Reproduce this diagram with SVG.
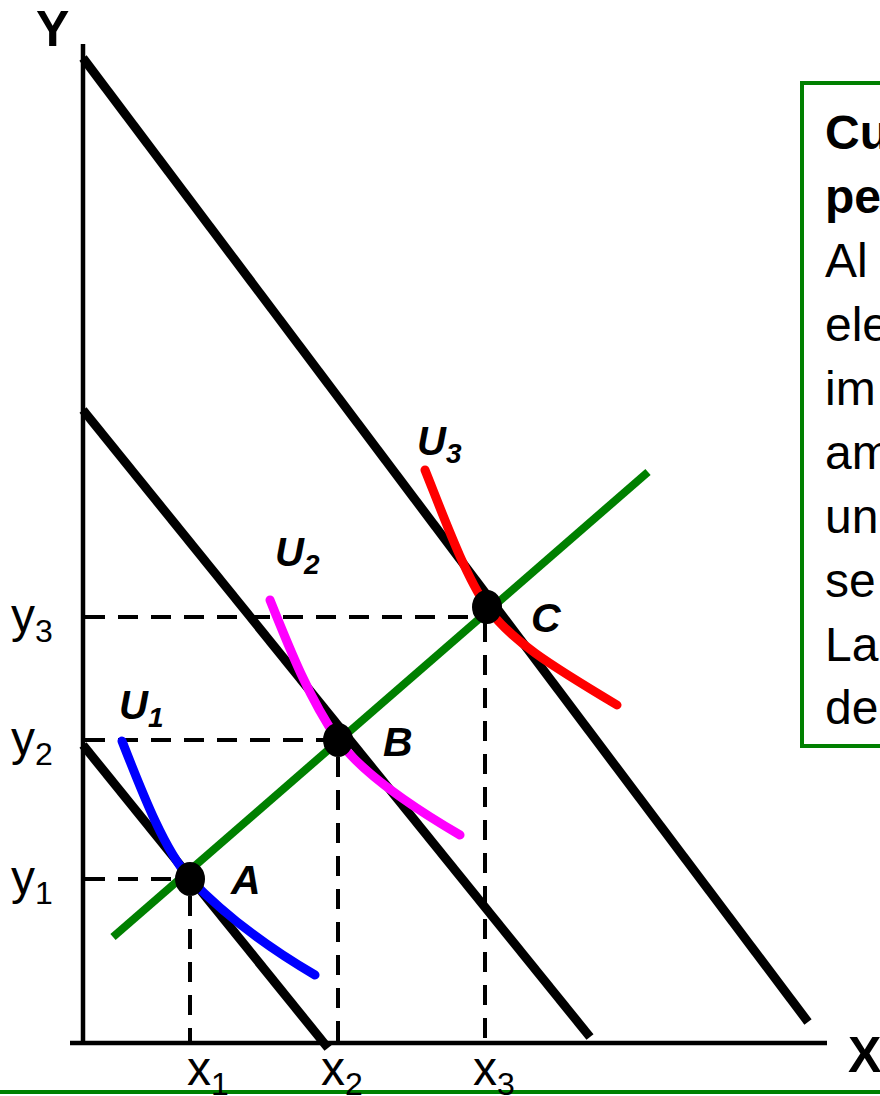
<svg xmlns="http://www.w3.org/2000/svg" width="880" height="1096" viewBox="0 0 880 1096">
<style>
.axis{stroke:#000;stroke-width:4.5;fill:none}
.budget{stroke:#000;stroke-width:9;fill:none}
.dash{stroke:#000;stroke-width:4;stroke-dasharray:20 13;fill:none}
.curve{fill:none;stroke-width:9;stroke-linecap:round}
.lbl{font-family:"Liberation Sans",Arial,sans-serif;fill:#000}
.pt{font-family:"Liberation Sans",Arial,sans-serif;font-weight:bold;font-style:italic;fill:#000}
.box{font-family:"Liberation Sans",Arial,sans-serif;font-size:48px;fill:#000}
</style>
<rect width="880" height="1096" fill="#fff"/>
<g id="axes">
<line class="axis" x1="83" y1="44" x2="83" y2="1045"/>
<line class="axis" x1="70" y1="1043" x2="827" y2="1043"/>
<text class="lbl" x="36" y="46" font-size="50" font-weight="bold">Y</text>
<text class="lbl" x="848" y="1072" font-size="50" font-weight="bold">X</text>
<line x1="0" y1="1092" x2="880" y2="1092" stroke="#008000" stroke-width="4"/>
</g>
<g id="connectors">
<line class="dash" x1="85" y1="617" x2="487" y2="617"/>
<line class="dash" x1="85" y1="740" x2="338" y2="740"/>
<line class="dash" x1="85" y1="879" x2="190" y2="879"/>
<line class="dash" x1="190" y1="896" x2="190" y2="1043"/>
<line class="dash" x1="338" y1="757" x2="338" y2="1043"/>
<line class="dash" x1="485" y1="622" x2="485" y2="1043"/>
<line class="budget" x1="83" y1="58" x2="808" y2="1022"/>
<line class="budget" x1="83" y1="410" x2="590" y2="1037"/>
<line class="budget" x1="83" y1="745" x2="328" y2="1048"/>
<line x1="113" y1="937" x2="648" y2="472" stroke="#008000" stroke-width="8"/>
</g>
<g id="U1">
<path class="curve" stroke="#0000ff" d="M122,741 C145,800 165,850 190,879 C215,905 255,940 315,975"/>
<text class="pt" x="119" y="719" font-size="40">U<tspan font-size="28" dy="8">1</tspan></text>
</g>
<g id="U2">
<path class="curve" stroke="#ff00ff" d="M270,600 C290,650 310,700 338,740 C360,770 400,800 460,835"/>
<text class="pt" x="275" y="566" font-size="40">U<tspan font-size="28" dy="8">2</tspan></text>
</g>
<g id="U3">
<path class="curve" stroke="#ff0000" d="M425,470 C445,520 465,575 487,607 C510,640 550,665 617,705"/>
<text class="pt" x="417" y="455" font-size="40">U<tspan font-size="28" dy="8">3</tspan></text>
</g>
<g id="A">
<ellipse cx="190" cy="879" rx="15" ry="17" fill="#000"/>
<text class="pt" x="231" y="894" font-size="41">A</text>
</g>
<g id="B">
<ellipse cx="338" cy="740" rx="15" ry="17" fill="#000"/>
<text class="pt" x="383" y="756" font-size="41">B</text>
</g>
<g id="C">
<ellipse cx="487" cy="607" rx="15" ry="17" fill="#000"/>
<text class="pt" x="531" y="632" font-size="41">C</text>
</g>
<g id="ticks">
<text class="lbl" x="11" y="632" font-size="48">y<tspan font-size="32" dy="10">3</tspan></text>
<text class="lbl" x="11" y="755" font-size="48">y<tspan font-size="32" dy="10">2</tspan></text>
<text class="lbl" x="11" y="894" font-size="48">y<tspan font-size="32" dy="10">1</tspan></text>
<text class="lbl" x="187" y="1085" font-size="48">x<tspan font-size="32" dy="10">1</tspan></text>
<text class="lbl" x="321" y="1085" font-size="48">x<tspan font-size="32" dy="10">2</tspan></text>
<text class="lbl" x="473" y="1085" font-size="48">x<tspan font-size="32" dy="10">3</tspan></text>
</g>
<g id="textbox">
<rect x="802" y="83" width="100" height="663" fill="#fff" stroke="#008000" stroke-width="4"/>
<text class="box" x="825" y="149" font-weight="bold">Cu</text>
<text class="box" x="825" y="213" font-weight="bold">pe</text>
<text class="box" x="825" y="277">Al</text>
<text class="box" x="825" y="341">ele</text>
<text class="box" x="825" y="405">im</text>
<text class="box" x="825" y="469">am</text>
<text class="box" x="825" y="533">un</text>
<text class="box" x="825" y="597">se</text>
<text class="box" x="825" y="661">La</text>
<text class="box" x="825" y="724">de</text>
</g>
</svg>
